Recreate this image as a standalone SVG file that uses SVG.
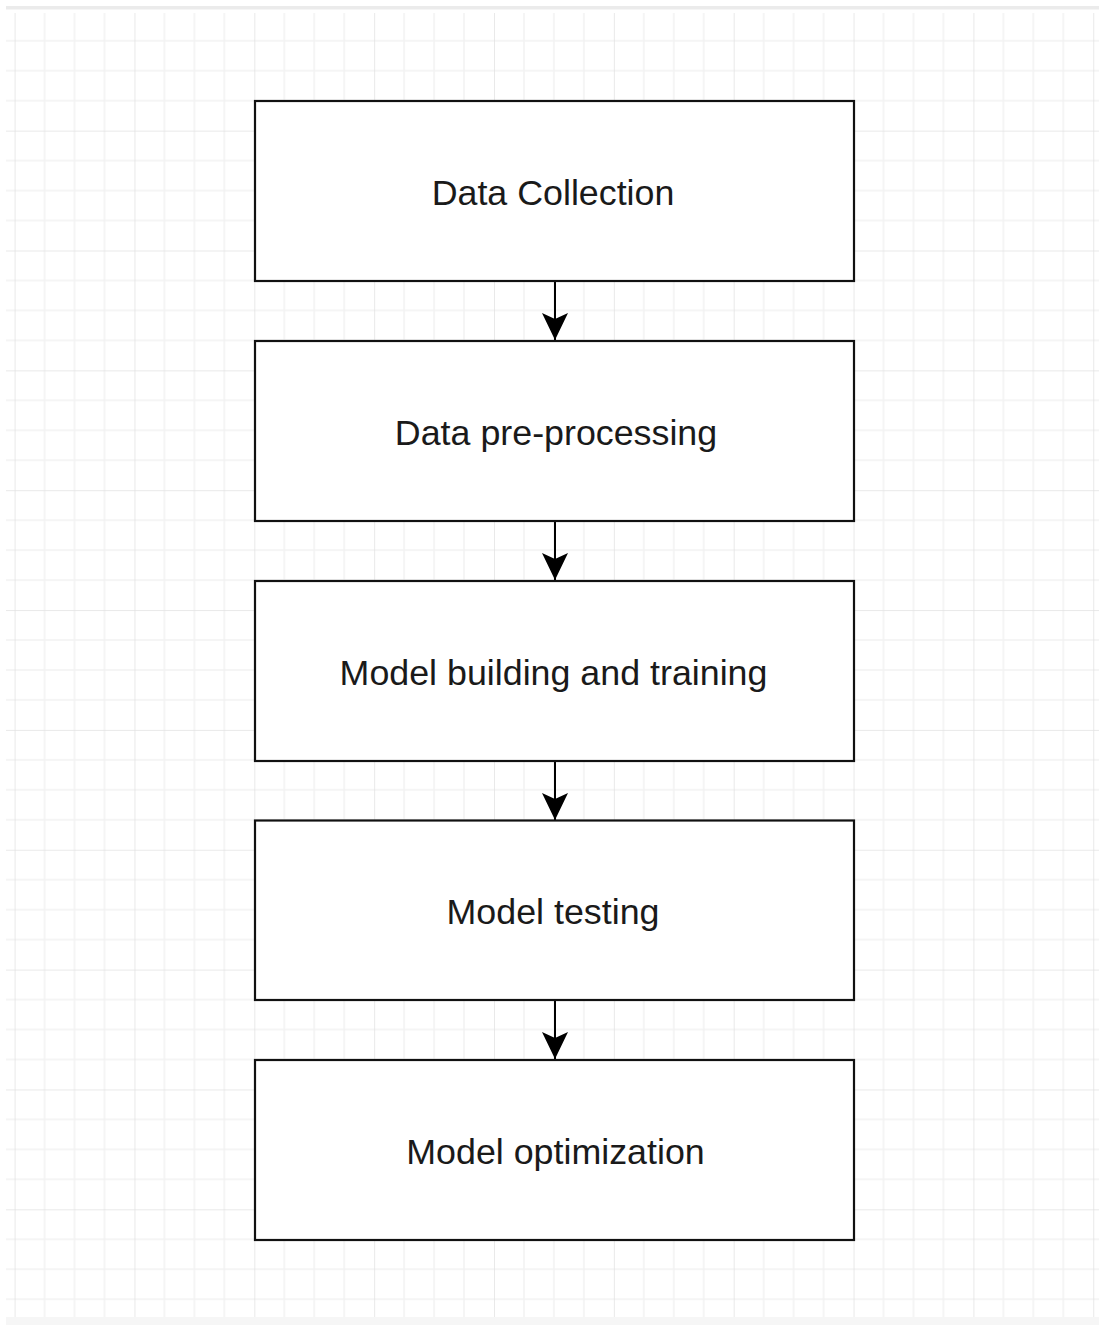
<svg xmlns="http://www.w3.org/2000/svg" width="1099" height="1325" viewBox="0 0 1099 1325">
  <style>
    .box { fill: #ffffff; stroke: #111111; stroke-width: 2.2; }
    .label { font-family: "Liberation Sans", Arial, Helvetica, sans-serif; font-size: 35.8px; fill: #1a1a1a; text-anchor: middle; }
    .edge { stroke: #000000; stroke-width: 2; fill: none; }
  </style>
  <defs>
    <!-- background grid: major lines every 120, minor every 30 -->
    <pattern id="grid" patternUnits="userSpaceOnUse" x="14.6" y="10.8" width="119.85" height="119.85">
      <g stroke="#f2f2f2" stroke-width="1.5">
        <line x1="29.96" y1="0" x2="29.96" y2="119.85"/>
        <line x1="59.92" y1="0" x2="59.92" y2="119.85"/>
        <line x1="89.89" y1="0" x2="89.89" y2="119.85"/>
        <line x1="0" y1="29.96" x2="119.85" y2="29.96"/>
        <line x1="0" y1="59.92" x2="119.85" y2="59.92"/>
        <line x1="0" y1="89.89" x2="119.85" y2="89.89"/>
      </g>
      <g stroke="#e2e2e2" stroke-width="1.5">
        <line x1="0" y1="0" x2="0" y2="119.85"/>
        <line x1="0" y1="0" x2="119.85" y2="0"/>
      </g>
    </pattern>
    <marker id="arrow" markerUnits="userSpaceOnUse" viewBox="0 0 28 28" refX="27" refY="14" markerWidth="28" markerHeight="28" orient="auto">
      <path d="M27,14 L0,1 L6,14 L0,27 Z" fill="#000000"/>
    </marker>
  </defs>

  <rect x="0" y="0" width="1099" height="1325" fill="#ffffff"/>
  <rect x="6" y="13" width="1093" height="1304" fill="url(#grid)"/>
  <rect x="6" y="6" width="1093" height="3.5" fill="#ebebeb"/>
  <rect x="6" y="1317" width="1093" height="8" fill="#f6f6f6"/>

  <g id="connectors">
    <line class="edge" x1="555" y1="281" x2="555" y2="340" marker-end="url(#arrow)"/>
    <line class="edge" x1="555" y1="521" x2="555" y2="580" marker-end="url(#arrow)"/>
    <line class="edge" x1="555" y1="761" x2="555" y2="820" marker-end="url(#arrow)"/>
    <line class="edge" x1="555" y1="1000" x2="555" y2="1059" marker-end="url(#arrow)"/>
  </g>

  <g id="data-collection">
    <rect class="box" x="255" y="101" width="599" height="180"/>
    <text class="label" x="553" y="204.5">Data Collection</text>
  </g>
  <g id="data-preprocessing">
    <rect class="box" x="255" y="341" width="599" height="180"/>
    <text class="label" x="556" y="444.5">Data pre-processing</text>
  </g>
  <g id="model-building">
    <rect class="box" x="255" y="581" width="599" height="180"/>
    <text class="label" x="553.5" y="684.5">Model building and training</text>
  </g>
  <g id="model-testing">
    <rect class="box" x="255" y="820.5" width="599" height="179.5"/>
    <text class="label" x="553" y="924">Model testing</text>
  </g>
  <g id="model-optimization">
    <rect class="box" x="255" y="1060" width="599" height="180"/>
    <text class="label" x="555.5" y="1164">Model optimization</text>
  </g>
</svg>
